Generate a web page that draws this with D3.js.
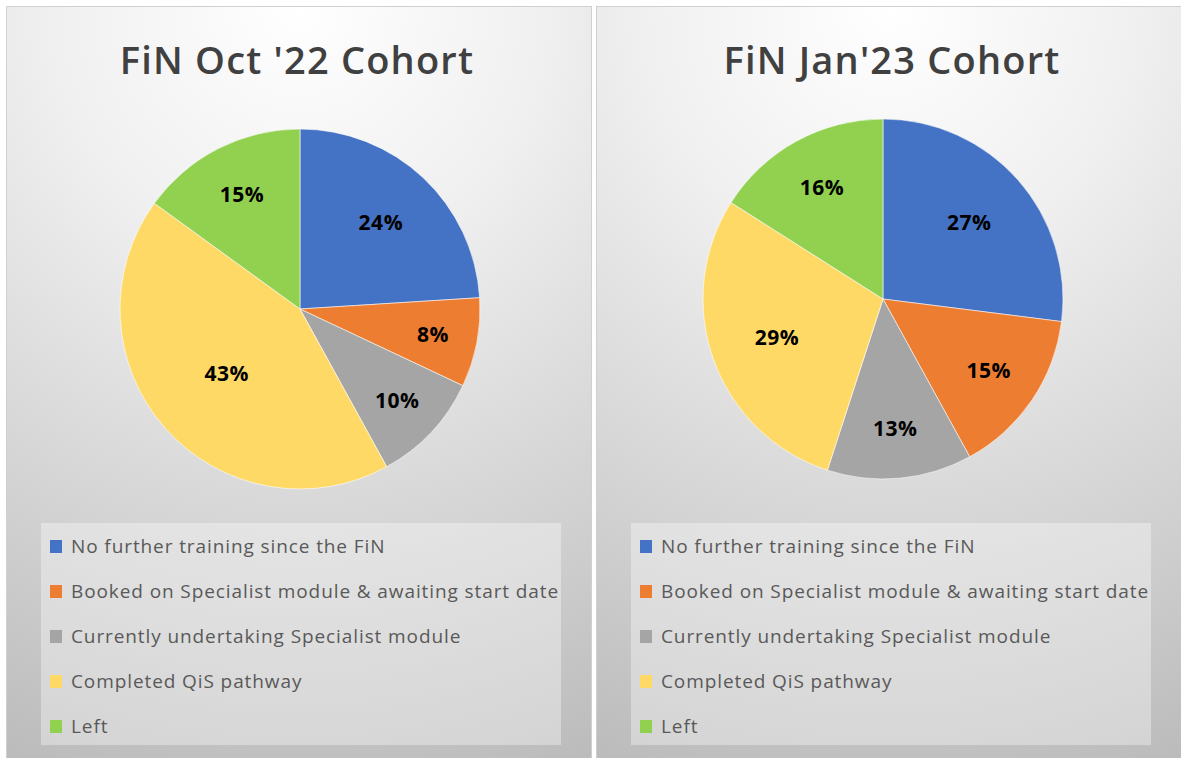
<!DOCTYPE html>
<html>
<head>
<meta charset="utf-8">
<script src="https://cdn.jsdelivr.net/npm/d3@7"></script>
<style>
  html, body { margin: 0; padding: 0; background: #ffffff; }
  svg { display: block; }
</style>
</head>
<body>
<div id="chart"></div>
<script>
// chart data
var categories = [
  "No further training since the FiN",
  "Booked on Specialist module & awaiting start date",
  "Currently undertaking Specialist module",
  "Completed QiS pathway",
  "Left"
];
var octValues = [24, 8, 10, 43, 15];
var janValues = [27, 15, 13, 29, 16];
var titles = ["FiN Oct '22 Cohort", "FiN Jan'23 Cohort"];

var palette = ["#4472c4", "#ed7d31", "#a5a5a5", "#ffd966", "#92d050"];

var width = 1181, height = 758;
var radius = 180;

// one panel per cohort
var panels = [
  { x: 6, title: titles[0], values: octValues, cx: 300, cy: 309, tx: 297 },
  { x: 596, title: titles[1], values: janValues, cx: 883, cy: 299, tx: 892 }
];
var panelW = 586, panelY = 6, panelH = 760;

var svg = d3.select("#chart")
  .append("svg")
    .attr("width", width)
    .attr("height", height);

var defs = svg.append("defs");

var color = d3.scaleOrdinal()
  .domain(categories)
  .range(palette);

var pie = d3.pie()
  .sort(null)
  .value(function(d) { return d.value; });

var arc = d3.arc()
  .innerRadius(0)
  .outerRadius(radius);

panels.forEach(function(p, i) {
  var gradId = "bg" + i;
  var grad = defs.append("radialGradient")
    .attr("id", gradId)
    .attr("gradientUnits", "userSpaceOnUse")
    .attr("cx", p.x + panelW / 2)
    .attr("cy", panelY)
    .attr("r", 820);
  grad.append("stop").attr("offset", 0).attr("stop-color", "#ffffff");
  grad.append("stop").attr("offset", 0.3).attr("stop-color", "#f0f0f0");
  grad.append("stop").attr("offset", 1).attr("stop-color", "#bababa");

  var g = svg.append("g").attr("class", "panel");

  g.append("rect")
    .attr("x", p.x + 0.5)
    .attr("y", panelY + 0.5)
    .attr("width", panelW - 1)
    .attr("height", panelH)
    .attr("fill", "url(#" + gradId + ")")
    .attr("stroke", "#d0d0d0")
    .attr("stroke-width", 1);

  g.append("text")
    .attr("x", p.tx)
    .attr("y", 74)
    .attr("text-anchor", "middle")
    .attr("font-family", "'Open Sans', sans-serif")
    .attr("font-weight", 600)
    .attr("font-size", "38px")
    .attr("letter-spacing", "1.2px")
    .attr("fill", "#404040")
    .text(p.title);

  var data = categories.map(function(c, k) {
    return { name: c, value: p.values[k] };
  });
  var total = d3.sum(p.values);

  var pg = g.append("g")
    .attr("transform", "translate(" + p.cx + "," + p.cy + ")");

  var arcs = pg.selectAll(".slice")
    .data(pie(data))
    .enter()
    .append("g")
      .attr("class", "slice");

  arcs.append("path")
    .attr("d", arc)
    .attr("fill", function(d) { return color(d.data.name); })
    .attr("stroke", "rgba(255,255,255,0.7)")
    .attr("stroke-width", 0.8);

  // small slices sit further out, like the best-fit labels
  arcs.append("text")
    .attr("transform", function(d) {
      var share = d.data.value / total;
      var r = radius * (0.8 - 0.6 * share);
      var a = (d.startAngle + d.endAngle) / 2;
      return "translate(" + (Math.sin(a) * r) + "," + (-Math.cos(a) * r) + ")";
    })
    .attr("dy", "0.35em")
    .attr("text-anchor", "middle")
    .attr("font-family", "'Open Sans', sans-serif")
    .attr("font-weight", "bold")
    .attr("font-size", "21px")
    .attr("letter-spacing", "0.5px")
    .attr("fill", "#000000")
    .text(function(d) { return d.data.value + "%"; });

  // legend
  var lx = p.x + 35;
  g.append("rect")
    .attr("x", lx)
    .attr("y", 523)
    .attr("width", 520)
    .attr("height", 222)
    .attr("fill", "#ffffff")
    .attr("fill-opacity", 0.35);

  var items = g.selectAll(".legend-item")
    .data(categories)
    .enter()
    .append("g")
      .attr("class", "legend-item")
      .attr("transform", function(d, k) {
        return "translate(" + (lx + 9) + "," + (546 + k * 45) + ")";
      });

  items.append("rect")
    .attr("x", 0)
    .attr("y", -6)
    .attr("width", 12)
    .attr("height", 13)
    .attr("fill", function(d) { return color(d); });

  items.append("text")
    .attr("x", 21)
    .attr("y", 0)
    .attr("dy", "0.35em")
    .attr("font-family", "'Open Sans', sans-serif")
    .attr("font-size", "19px")
    .attr("letter-spacing", "0.9px")
    .attr("fill", "#595959")
    .text(function(d) { return d; });
});
</script>
</body>
</html>
